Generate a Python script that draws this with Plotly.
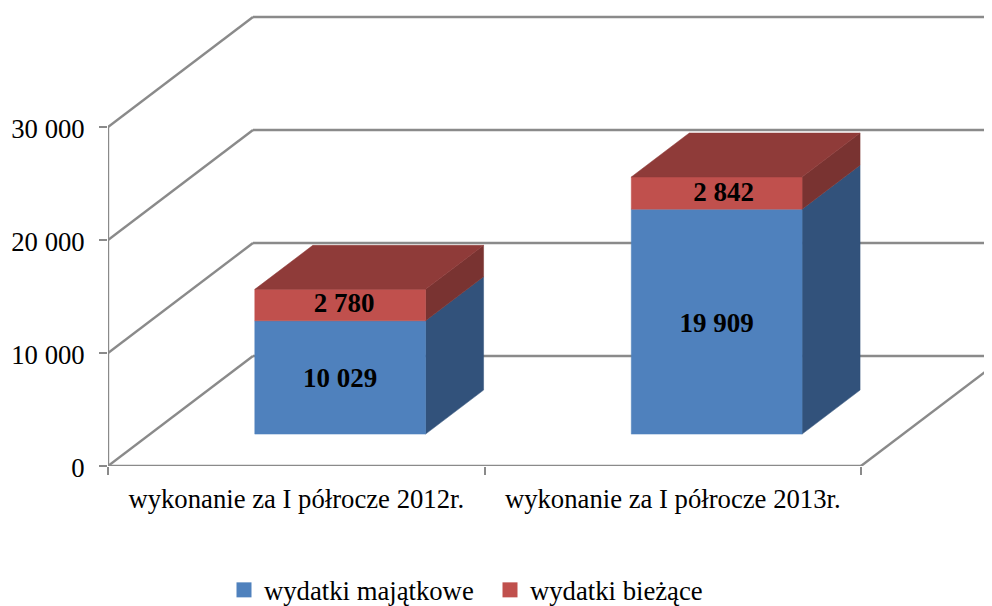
import plotly.graph_objects as go

categories = ["wykonanie za I półrocze 2012r.", "wykonanie za I półrocze 2013r."]
wydatki_majatkowe = [10029, 19909]
wydatki_biezace = [2780, 2842]
y_ticks = [0, 10000, 20000, 30000]
series_names = ["wydatki majątkowe", "wydatki bieżące"]

BLUE, BLUE_SIDE = "#4f81bd", "#32527b"
RED, RED_SIDE, RED_TOP = "#c0504d", "#793331", "#8f3b39"
GRID = "#8a8a8a"
FONT = "Liberation Serif"

# page has an 8px body margin, so the figure is offset by it
OFF = 8
W, H = 992 - OFF, 606 - OFF
L, B, T = 108 - OFF, 606 - 466, 0
PX_X = 376.5            # px per category
PX_Y = 339 / 30000      # px per value
DX = 145 / PX_X         # full wall depth, x units
DY = 110 / PX_Y         # full wall depth, value units
D0, D1 = 0.29, 0.69     # bar depth span
BW = 0.4536
BC = 0.505
# label nudges in px (right, down), per category and series
LABEL_NUDGE = [[(0, 3), (4, 0)], [(0, 4), (7, 1)]]


def P(x, v, d=0.0):
    return x + d * DX, v + d * DY


def poly(points, color, **kw):
    xs, ys = zip(*points)
    return go.Scatter(x=list(xs) + [xs[0]], y=list(ys) + [ys[0]], mode="lines", fill="toself",
                      fillcolor=color, line=dict(color=color, width=0.5), hoverinfo="skip",
                      showlegend=False, **kw)


def line(a, b):
    return go.Scatter(x=[a[0], b[0]], y=[a[1], b[1]], mode="lines", line=dict(color=GRID, width=2.4),
                      hoverinfo="skip", showlegend=False)


fig = go.Figure()

# walls and floor
nc = len(categories)
for t in y_ticks:
    fig.add_trace(line(P(0, t), P(0, t, 1)))
    fig.add_trace(line(P(0, t, 1), P(nc, t, 1)))
fig.add_trace(line(P(nc, 0), P(nc, 0, 1)))
fig.add_trace(line(P(0, 0), P(0, y_ticks[-1])))
fig.add_trace(line(P(0, 0), P(nc, 0)))

# bars
label_x, label_y, label_text = [], [], []
for i in range(nc):
    x0, x1 = i + BC - BW / 2, i + BC + BW / 2
    base = 0
    for s, (vals, front, side) in enumerate(((wydatki_majatkowe, BLUE, BLUE_SIDE), (wydatki_biezace, RED, RED_SIDE))):
        v0, v1 = base, base + vals[i]
        fig.add_trace(poly([P(x1, v0, D0), P(x1, v0, D1), P(x1, v1, D1), P(x1, v1, D0)], side))
        fig.add_trace(poly([P(x0, v0, D0), P(x1, v0, D0), P(x1, v1, D0), P(x0, v1, D0)], front))
        cx, cy = P((x0 + x1) / 2, (v0 + v1) / 2, D0)
        nx, ny = LABEL_NUDGE[i][s]
        label_x.append(cx + nx / PX_X)
        label_y.append(cy - ny / PX_Y)
        label_text.append(f"{vals[i]:,}".replace(",", " "))
        base = v1
    fig.add_trace(poly([P(x0, base, D0), P(x1, base, D0), P(x1, base, D1), P(x0, base, D1)], RED_TOP))

fig.add_trace(go.Scatter(x=label_x, y=label_y, text=label_text, mode="text", hoverinfo="skip",
                         showlegend=False, textposition="middle center",
                         textfont=dict(family=FONT, size=27, color="black", weight="bold")))

# legend entries
for name, color, lg in zip(series_names, (BLUE, RED), ("legend", "legend2")):
    fig.add_trace(go.Scatter(x=[None], y=[None], mode="markers", name=name, legend=lg, showlegend=True,
                             marker=dict(symbol="square", size=15, color=color)))

plot_w, plot_h = W - L, H - B - T
legend_common = dict(xanchor="left", yanchor="middle", font=dict(size=26.7), itemwidth=30,
                     bgcolor="rgba(0,0,0,0)", borderwidth=0)

fig.update_layout(
    width=W, height=H, autosize=False,
    margin=dict(l=L, r=0, t=T, b=B, pad=0, autoexpand=False),
    paper_bgcolor="white", plot_bgcolor="white",
    font=dict(family=FONT, size=26.7, color="black"),
    xaxis=dict(range=[0, plot_w / PX_X], tickvals=[i + 0.5 for i in range(nc)], ticktext=categories,
               showgrid=False, zeroline=False, showline=False, ticks="", ticklen=0, ticklabelstandoff=14,
               minor=dict(tickvals=list(range(nc + 1)), ticks="outside", ticklen=8, tickcolor=GRID,
                          tickwidth=2.4, showgrid=False),
               fixedrange=True),
    yaxis=dict(range=[0, plot_h / PX_Y], tickvals=y_ticks,
               ticktext=[f"{t:,}".replace(",", " ") for t in y_ticks],
               showgrid=False, zeroline=False, showline=False, ticks="outside", ticklen=8,
               tickcolor=GRID, tickwidth=2.4, ticklabelstandoff=9, ticklabelshift=2, fixedrange=True),
    legend=dict(x=(224 - 108) / plot_w, y=-(590 - 466) / plot_h, **legend_common),
    legend2=dict(x=(490 - 108) / plot_w, y=-(590 - 466) / plot_h, **legend_common),
)

fig.write_html("out.html")
